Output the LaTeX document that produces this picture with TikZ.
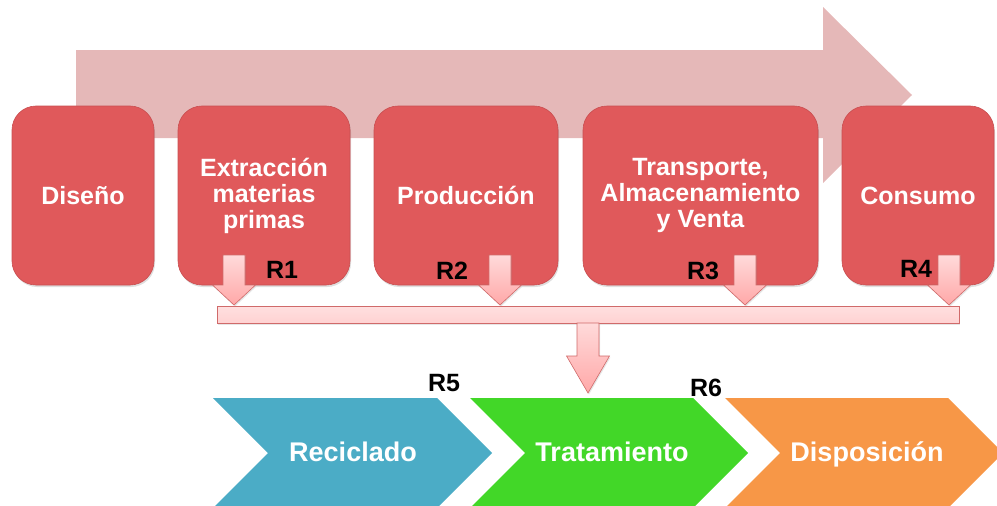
\documentclass[tikz,border=0pt]{standalone}
\usepackage{fontspec}
\setmainfont{Liberation Sans}
\usetikzlibrary{shadows}
\definecolor{boxred}{HTML}{E0595B}
\definecolor{boxedge}{HTML}{C94E50}
\definecolor{bigarrow}{HTML}{E5B8B8}
\definecolor{pinktop}{HTML}{FFDADA}
\definecolor{pinkbot}{HTML}{FFA8A8}
\definecolor{barfill}{HTML}{FFD2D2}
\definecolor{pinkedge}{HTML}{D06A6A}
\definecolor{recblue}{HTML}{4BACC6}
\definecolor{tratgreen}{HTML}{42D728}
\definecolor{disorange}{HTML}{F79747}
\tikzset{
  stagebox/.style={draw=boxedge, line width=0.6pt, fill=boxred, rounded corners=24pt,
    text=white, align=center, font=\fontsize{25}{26}\selectfont\bfseries, inner sep=0pt,
    drop shadow={opacity=0.25, shadow xshift=1pt, shadow yshift=-2pt}},
  pinkshape/.style={draw=pinkedge, line width=0.6pt, top color=pinktop, bottom color=pinkbot,
    drop shadow={opacity=0.2, shadow xshift=1pt, shadow yshift=-1.5pt}},
  barshape/.style={draw=pinkedge, line width=0.6pt, top color=barfill!70!white, bottom color=barfill,
    drop shadow={opacity=0.2, shadow xshift=1pt, shadow yshift=-1.5pt}},
  rlabel/.style={font=\fontsize{25}{25}\selectfont\bfseries, text=black, inner sep=0pt},
  chevtext/.style={font=\fontsize{27}{27}\selectfont\bfseries, text=white, inner sep=0pt, anchor=base},
  downarrow/.pic={\path[pinkshape] (-11,0) -- (11,0) -- (11,30) -- (21.5,30) -- (0,50) -- (-21.5,30) -- (-11,30) -- cycle;}
}
\begin{document}
\begin{tikzpicture}[x=1pt,y=-1pt]
\useasboundingbox (0,0) rectangle (997,506);
% big background arrow
\fill[bigarrow] (76,50) -- (823,50) -- (823,7) -- (912,95) -- (823,183) -- (823,138) -- (76,138) -- cycle;
% stage boxes
\node[stagebox, minimum width=142pt, minimum height=179pt] (dis) at (83,195.5) {Diseño};
\node[stagebox, minimum width=172pt, minimum height=179pt] (ext) at (264,195.5) {Extracción\\materias\\primas};
\node[stagebox, minimum width=184pt, minimum height=179pt] (pro) at (466,195.5) {Producción};
\node[stagebox, minimum width=235pt, minimum height=179pt] (tra) at (700.5,195.5) {Transporte,\\Almacenamiento\\y Venta};
\node[stagebox, minimum width=152pt, minimum height=179pt] (con) at (918,195.5) {Consumo};
% small arrows
\pic at (234,255) {downarrow};
\pic at (500,255) {downarrow};
\pic at (745,255) {downarrow};
\pic at (949,255) {downarrow};
% collecting bar
\path[barshape] (217,306) rectangle (959,323);
% arrow down to treatment
\path[pinkshape] (577,323) -- (599,323) -- (599,356) -- (609.5,356) -- (588,393) -- (566.5,356) -- (577,356) -- cycle;
% labels
\node[rlabel] (r1) at (282,270) {R1};
\node[rlabel] (r2) at (452,271) {R2};
\node[rlabel] (r3) at (703,271) {R3};
\node[rlabel] (r4) at (916,269) {R4};
\node[rlabel] (r5) at (444,383) {R5};
\node[rlabel] (r6) at (706,388) {R6};
% chevrons
\fill[recblue] (213,398) -- (437,398) -- (492,453) -- (437,508) -- (213,508) -- (268,453) -- cycle;
\fill[tratgreen] (470,398) -- (693,398) -- (748,453) -- (693,508) -- (470,508) -- (525,453) -- cycle;
\fill[disorange] (725,398) -- (948,398) -- (1003,453) -- (948,508) -- (725,508) -- (780,453) -- cycle;
\node[chevtext] (rec) at (353,461) {Reciclado};
\node[chevtext] (trat) at (612,461) {Tratamiento};
\node[chevtext] (disp) at (867,461) {Disposición};
\end{tikzpicture}
\end{document}
